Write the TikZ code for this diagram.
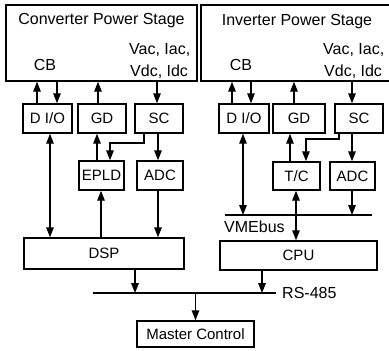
\documentclass[tikz,border=0pt]{standalone}
\usepackage{fontspec}
\setmainfont{Liberation Sans}
\usetikzlibrary{arrows.meta}
\begin{document}
\begin{tikzpicture}[x=1pt,y=-1pt,
  box/.style={draw, line width=1.4pt, inner sep=0pt, font=\fontsize{15}{18}\selectfont},
  lbl/.style={inner sep=0pt, font=\fontsize{16}{19}\selectfont},
  ln/.style={line width=1.4pt},
  arr/.style={line width=1.4pt, -{Triangle[length=10pt,width=7.5pt]}},
  darr/.style={line width=1.4pt, {Triangle[length=10pt,width=7.5pt]}-{Triangle[length=10pt,width=7.5pt]}}]
\useasboundingbox (0,0) rectangle (389,351);
\clip (0,0) rectangle (389,351);

% power stages
\node[box, minimum width=191pt, minimum height=76pt] (conv) at (101.5,43) {};
\node[box, minimum width=194pt, minimum height=76pt] (inv) at (298,43) {};
\node[lbl, anchor=base] (convT) at (101.5,24) {Converter Power Stage};
\node[lbl, anchor=base] (convCB) at (45,70) {CB};
\node[lbl, anchor=base west] (convV1) at (129,54) {Vac, Iac,};
\node[lbl, anchor=base west] (convV2) at (130,76) {Vdc, Idc};
\node[lbl, anchor=base] (invT) at (297,25) {Inverter Power Stage};
\node[lbl, anchor=base] (invCB) at (241,70) {CB};
\node[lbl, anchor=base west] (invV1) at (323,54) {Vac, Iac,};
\node[lbl, anchor=base west] (invV2) at (324,76) {Vdc, Idc};

% left side blocks
\node[box, minimum width=49pt, minimum height=29pt] (dioL) at (47.5,118.5) {D I/O};
\node[box, minimum width=48pt, minimum height=29pt] (gdL) at (102,118.5) {GD};
\node[box, minimum width=48pt, minimum height=29pt] (scL) at (159,118.5) {SC};
\node[box, minimum width=45pt, minimum height=29pt] (epld) at (101.5,175.5) {EPLD};
\node[box, minimum width=46pt, minimum height=29pt] (adcL) at (160,175.5) {ADC};
\node[box, minimum width=160pt, minimum height=31pt] (dsp) at (104,253.5) {DSP};

% right side blocks
\node[box, minimum width=50pt, minimum height=29pt] (dioR) at (244,118.5) {D I/O};
\node[box, minimum width=52pt, minimum height=29pt] (gdR) at (299,118.5) {GD};
\node[box, minimum width=48pt, minimum height=29pt] (scR) at (359,118.5) {SC};
\node[box, minimum width=47pt, minimum height=28pt] (tc) at (296.5,176) {T/C};
\node[box, minimum width=45pt, minimum height=28pt] (adcR) at (352.5,176) {ADC};
\node[box, minimum width=157pt, minimum height=29pt] (cpu) at (298.5,255.5) {CPU};

\node[box, minimum width=117pt, minimum height=26pt] (master) at (195.5,334) {Master Control};

% buses
\coordinate (vmeL) at (225,215);
\coordinate (vmeR) at (372,215);
\coordinate (rsL) at (93,293);
\coordinate (rsR) at (276,293);
\draw[ln] (vmeL) -- (vmeR);
\draw[ln] (rsL) -- (rsR);
\node[lbl, anchor=west] (vmeT) at (224,227) {VMEbus};
\node[lbl, anchor=west] (rsT) at (282,293) {RS-485};

% x columns
\coordinate (xa) at (37,0);
\coordinate (xb) at (57,0);
\coordinate (xc) at (98,0);
\coordinate (xd) at (157,0);
\coordinate (xe) at (158,0);
\coordinate (xf) at (144,0);
\coordinate (bL) at (110,143);
\coordinate (xh) at (97,0);
\coordinate (xi) at (101,0);
\coordinate (xj) at (50,0);
\coordinate (xk) at (135,0);
\coordinate (ya) at (232,0);
\coordinate (yb) at (251,0);
\coordinate (yc) at (294,0);
\coordinate (yd) at (352,0);
\coordinate (yf) at (339,0);
\coordinate (bR) at (306,139);
\coordinate (yh) at (290,0);
\coordinate (yj) at (243,0);
\coordinate (yk) at (296,0);
\coordinate (yl) at (262,0);

% left connectors
\draw[arr] (dioL.north -| xa) -- (conv.south -| xa);
\draw[arr] (conv.south -| xb) -- (dioL.north -| xb);
\draw[arr] (gdL.north -| xc) -- (conv.south -| xc);
\draw[arr] (conv.south -| xd) -- (scL.north -| xd);
\draw[arr] (scL.south -| xe) -- (adcL.north -| xe);
\draw[arr] (scL.south -| xf) |- (bL) -- (epld.north -| bL);
\draw[arr] (epld.north -| xh) -- (gdL.south -| xh);
\draw[arr] (dsp.north -| xi) -- (epld.south -| xi);
\draw[arr] (adcL.south -| xe) -- (dsp.north -| xe);
\draw[darr] (dioL.south -| xj) -- (dsp.north -| xj);
\draw[arr] (dsp.south -| xk) -- (rsL -| xk);

% right connectors
\draw[arr] (dioR.north -| ya) -- (inv.south -| ya);
\draw[arr] (inv.south -| yb) -- (dioR.north -| yb);
\draw[arr] (gdR.north -| yc) -- (inv.south -| yc);
\draw[arr] (inv.south -| yd) -- (scR.north -| yd);
\draw[arr] (scR.south -| yd) -- (adcR.north -| yd);
\draw[arr] (scR.south -| yf) |- (bR) -- (tc.north -| bR);
\draw[arr] (tc.north -| yh) -- (gdR.south -| yh);
\draw[darr] (dioR.south -| yj) -- (vmeL -| yj);
\draw[darr] (tc.south -| yk) -- (cpu.north -| yk);
\draw[arr] (adcR.south -| yd) -- (vmeL -| yd);
\draw[arr] (cpu.south -| yl) -- (rsL -| yl);

\draw[arr] (rsL -| master) -- (master.north);
\end{tikzpicture}
\end{document}
